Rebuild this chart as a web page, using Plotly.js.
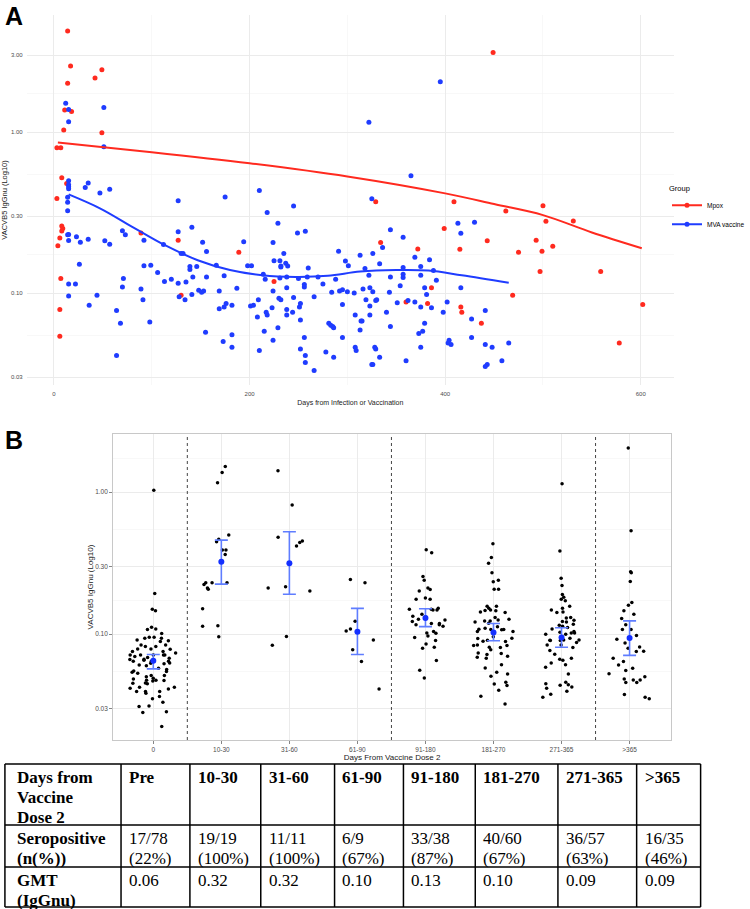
<!DOCTYPE html>
<html>
<head>
<meta charset="utf-8">
<script src="https://cdn.plot.ly/plotly-3.0.1.min.js"></script>
<style>
  html, body { margin: 0; padding: 0; background: #fff; }
  #chart_div { width: 750px; height: 909px; }
</style>
</head>
<body>
<div id="chart_div"></div>
<script>
// ---- Panel A: days since infection / vaccination vs IgGnu ----
var mpoxDays = [14, 17, 14, 42, 49, 11, 18, 10, 49, 3, 7, 8, 13, 3, 8, 9, 8, 6, 4, 89, 127, 189, 225, 130, 7, 6, 6,
  449, 329, 409, 500, 462, 503, 531, 399, 334, 443, 493, 510, 372, 415, 475, 499, 497, 559, 386, 360, 382, 469, 416, 417, 437, 602, 578];
var mpoxVals = [4.24, 2.57, 2.01, 2.17, 2.44, 1.37, 1.34, 1.03, 0.99, 0.80, 0.80, 0.52, 0.48, 0.387, 0.261, 0.252, 0.243, 0.220, 0.197, 0.236, 0.213, 0.179, 0.118, 0.097, 0.123, 0.079, 0.054,
  3.12, 0.369, 0.369, 0.349, 0.323, 0.279, 0.280, 0.252, 0.206, 0.211, 0.213, 0.195, 0.188, 0.187, 0.179, 0.182, 0.136, 0.136, 0.108, 0.088, 0.086, 0.097, 0.082, 0.076, 0.065, 0.085, 0.049];

var mvaDays = [12, 15, 15, 15, 15, 15, 15, 14, 14, 14, 15, 14, 15, 15, 15,
  23, 27, 26, 22, 32, 35, 35, 36, 44, 47, 51, 51, 52, 57, 57,
  64, 64, 68, 70, 73, 71, 70, 89, 91, 92, 92, 98, 99, 106, 112,
  113, 120, 127, 127, 127, 128, 130, 132, 134, 135, 139, 139, 141, 142, 141,
  146, 148, 151, 152, 153, 155, 156, 156, 166, 169, 169, 173, 174, 174, 176,
  175, 182, 182, 182, 187, 194, 198, 201, 202, 204, 208, 209, 210, 210, 214,
  215, 216, 217, 218, 218, 223, 224, 224, 224, 225, 231, 232, 232, 229, 230,
  231, 232, 229, 235, 237, 239, 238, 238, 238, 238, 244, 245, 245, 249, 250,
  251, 252, 252, 252, 256, 256, 256, 257, 257, 257, 259, 260, 266, 266, 270,
  275, 278, 281, 283, 285, 286, 284, 286, 288, 291, 292, 295, 295, 295, 298,
  301, 300, 307, 308, 308, 309, 313, 313, 314, 315, 316, 318, 319, 322, 323,
  323, 323, 322, 325, 326, 326, 325,
  395, 365, 344, 357, 413, 430, 416, 336, 333, 369, 357, 375, 384, 388, 357,
  357, 375, 391, 344, 354, 379, 416, 343, 381, 330, 329, 351, 362, 369, 375,
  386, 402, 398, 340, 344, 379, 377, 373, 427, 441, 328, 329, 333, 326, 360,
  375, 404, 403, 406, 427, 441, 448, 465, 458, 443, 441];
var mvaVals = [1.51, 1.38, 1.16, 0.499, 0.471, 0.457, 0.445, 0.393, 0.366, 0.325, 0.231, 0.230, 0.212, 0.114, 0.096,
  0.224, 0.207, 0.151, 0.114, 0.453, 0.482, 0.216, 0.084, 0.097, 0.418, 1.42, 0.811, 0.211, 0.201, 0.442,
  0.078, 0.041, 0.065, 0.244, 0.230, 0.123, 0.109, 0.106, 0.091, 0.213, 0.148, 0.066, 0.149, 0.134, 0.200,
  0.118, 0.122, 0.374, 0.240, 0.115, 0.095, 0.176, 0.176, 0.091, 0.117, 0.146, 0.140, 0.256, 0.126, 0.098,
  0.146, 0.104, 0.101, 0.207, 0.103, 0.057, 0.126, 0.181, 0.149, 0.103, 0.080, 0.050, 0.082, 0.128, 0.086,
  0.395, 0.084, 0.055, 0.046, 0.107, 0.208, 0.148, 0.083, 0.148, 0.084, 0.071, 0.091, 0.044, 0.434, 0.131,
  0.058, 0.122, 0.076, 0.073, 0.317, 0.081, 0.051, 0.206, 0.103, 0.159, 0.159, 0.147, 0.145, 0.271, 0.093,
  0.124, 0.091, 0.061, 0.176, 0.153, 0.147, 0.079, 0.108, 0.073, 0.126, 0.076, 0.094, 0.347, 0.236, 0.123,
  0.082, 0.086, 0.068, 0.045, 0.053, 0.113, 0.109, 0.242, 0.041, 0.037, 0.126, 0.143, 0.033, 0.095, 0.126,
  0.114, 0.043, 0.065, 0.063, 0.062, 0.061, 0.101, 0.040, 0.122, 0.182, 0.103, 0.105, 0.085, 0.053, 0.158,
  0.148, 0.102, 0.100, 0.073, 0.046, 0.044, 0.172, 0.059, 0.067, 0.067, 0.106, 0.142, 0.091, 0.129, 0.108,
  0.073, 0.083, 1.15, 0.385, 0.176, 0.102, 0.036,
  2.05, 0.536, 0.247, 0.222, 0.271, 0.275, 0.235, 0.192, 0.152, 0.167, 0.144, 0.146, 0.161, 0.138, 0.131,
  0.125, 0.129, 0.120, 0.126, 0.111, 0.108, 0.108, 0.101, 0.098, 0.091, 0.090, 0.087, 0.090, 0.088, 0.082,
  0.081, 0.088, 0.076, 0.076, 0.062, 0.065, 0.058, 0.056, 0.069, 0.078, 0.046, 0.045, 0.040, 0.036, 0.038,
  0.046, 0.051, 0.049, 0.048, 0.053, 0.048, 0.046, 0.049, 0.038, 0.036, 0.035];

// smoothed trend lines
var mpoxFitDays = [4, 100, 200, 300, 400, 450, 500, 550, 601];
var mpoxFitVals = [0.86, 0.75, 0.64, 0.53, 0.416, 0.357, 0.305, 0.238, 0.190];
var mvaFitDays = [15, 47, 80, 113, 147, 180, 213, 247, 280, 313, 350, 383, 417, 465];
var mvaFitVals = [0.41, 0.336, 0.258, 0.199, 0.160, 0.139, 0.129, 0.126, 0.128, 0.136, 0.139, 0.138, 0.129, 0.116];

// ---- Panel B: titres by time since dose 2 ----
var bCats = ["0", "10-30", "31-60", "61-90", "91-180", "181-270", "271-365", ">365"];
var preVals = [1.03, 0.193, 0.150, 0.146, 0.109, 0.112, 0.108, 0.101, 0.0912, 0.0937, 0.0953, 0.0937, 0.0953, 0.0788, 0.0788,
  0.0818, 0.0818, 0.0784, 0.0755, 0.0715, 0.0715, 0.0755, 0.0739, 0.0715, 0.0645, 0.0645, 0.0621, 0.0645, 0.0667, 0.0628,
  0.0664, 0.0564, 0.0601, 0.0577, 0.0546, 0.0540, 0.0552, 0.0512, 0.0512, 0.0490, 0.0485, 0.0469, 0.0474, 0.0474, 0.0472,
  0.0454, 0.0449, 0.0423, 0.0412, 0.0423, 0.0395, 0.0395, 0.0395, 0.0332, 0.0351, 0.0310, 0.0313, 0.0282, 0.0285, 0.0224,
  0.0656, 0.0715, 0.0696, 0.0898, 0.0888, 0.0841, 0.0678, 0.0715, 0.0608, 0.0531, 0.0503, 0.0452, 0.0385, 0.0417, 0.0364,
  0.0841, 0.0685, 0.0625];
var d10Vals = [1.51, 1.16, 1.37, 0.498, 0.465, 0.447, 0.391, 0.364, 0.391, 0.230, 0.230, 0.230, 0.224, 0.211, 0.207, 0.151, 0.1145, 0.1138, 0.0958];
var d31Vals = [1.41, 0.810, 0.452, 0.480, 0.442, 0.417, 0.201, 0.216, 0.211, 0.0964, 0.0837];
var d61Vals = [0.243, 0.230, 0.1235, 0.1055, 0.109, 0.0912, 0.0776, 0.0642, 0.0412];
var d91Vals = [0.374, 0.393, 0.255, 0.240, 0.211, 0.206, 0.201, 0.180, 0.176, 0.176, 0.150, 0.150, 0.152, 0.148, 0.148,
  0.1276, 0.134, 0.132, 0.138, 0.1164, 0.119, 0.119, 0.1138, 0.1228, 0.1164, 0.1017, 0.102, 0.1044, 0.0948, 0.0973,
  0.0902, 0.0855, 0.0797, 0.081, 0.0653, 0.0558, 0.0492, 0.126];
var d181Vals = [0.433, 0.347, 0.316, 0.270, 0.240, 0.234, 0.207, 0.207, 0.146, 0.157, 0.152, 0.142, 0.157, 0.148, 0.147,
  0.143, 0.1195, 0.1127, 0.122, 0.124, 0.124, 0.131, 0.1276, 0.1044, 0.108, 0.0958, 0.0932, 0.1084, 0.1073, 0.108,
  0.0908, 0.0937, 0.0893, 0.0841, 0.0832, 0.0832, 0.081, 0.0805, 0.0739, 0.0731, 0.0719, 0.070, 0.0689, 0.0611, 0.0579,
  0.054, 0.0526, 0.0506, 0.0447, 0.0435, 0.0459, 0.0403, 0.0366, 0.0323, 0.126, 0.1044, 0.0888, 0.0776, 0.0678, 0.110];
var d271Vals = [1.145, 0.384, 0.247, 0.220, 0.190, 0.176, 0.172, 0.182, 0.152, 0.148, 0.142, 0.157, 0.143, 0.130, 0.131,
  0.1256, 0.122, 0.1157, 0.1138, 0.1114, 0.1033, 0.1044, 0.100, 0.102, 0.100, 0.102, 0.0908, 0.0902, 0.0912, 0.0912,
  0.0902, 0.0873, 0.0841, 0.0841, 0.0805, 0.0767, 0.0723, 0.0667, 0.0628, 0.0656, 0.0586, 0.0611, 0.0526, 0.0449, 0.0437,
  0.0426, 0.0459, 0.0417, 0.0442, 0.0397, 0.0378, 0.036, 0.0937, 0.109, 0.1175, 0.1228, 0.0678];
var d365Vals = [2.04, 0.534, 0.275, 0.270, 0.235, 0.167, 0.160, 0.146, 0.138, 0.129, 0.108, 0.108, 0.0869, 0.0979, 0.0814,
  0.0759, 0.0922, 0.0797, 0.0755, 0.0642, 0.0577, 0.0555, 0.0528, 0.0477, 0.0457, 0.0485, 0.0477, 0.0457, 0.0503, 0.0376,
  0.036, 0.0351, 0.1164, 0.0678, 0.0608];
var groupVals = [preVals, d10Vals, d31Vals, d61Vals, d91Vals, d181Vals, d271Vals, d365Vals];

// geometric mean with 95% CI
var gmtMid = [0.065, 0.323, 0.316, 0.104, 0.130, 0.103, 0.095, 0.094];
var gmtLow = [0.057, 0.225, 0.191, 0.072, 0.113, 0.090, 0.081, 0.071];
var gmtHigh = [0.072, 0.459, 0.526, 0.152, 0.151, 0.119, 0.111, 0.124];
var dividers = [0.5, 3.5, 6.5];

// ---- Table ----
var tableCats = ["Pre", "10-30", "31-60", "61-90", "91-180", "181-270", "271-365", ">365"];
var seroPos = [17, 19, 11, 6, 33, 40, 36, 16];
var seroN = [78, 19, 11, 9, 38, 60, 57, 35];
var seroPct = [22, 100, 100, 67, 87, 67, 63, 46];
var gmtText = ["0.06", "0.32", "0.32", "0.10", "0.13", "0.10", "0.09", "0.09"];

var W = 750, H = 909;
function fx(px) { return px / W; }
function fy(px) { return 1 - px / H; }

var RED = "#ff2a1f", BLUE = "#1f3cff";
var sans = "Liberation Sans, Arial, sans-serif";
var serif = "Liberation Serif, Times New Roman, serif";

var ptsX = [], ptsY = [];
groupVals.forEach(function (vals, i) {
  vals.forEach(function (v) { ptsX.push(bCats[i]); ptsY.push(v); });
});

var data = [
  { type: "scatter", mode: "markers", x: mpoxDays, y: mpoxVals, xaxis: "x", yaxis: "y",
    marker: { color: RED, size: 5 }, showlegend: false, legendgroup: "mpox" },
  { type: "scatter", mode: "markers", x: mvaDays, y: mvaVals, xaxis: "x", yaxis: "y",
    marker: { color: BLUE, size: 5 }, showlegend: false, legendgroup: "mva" },
  { type: "scatter", mode: "lines", x: mpoxFitDays, y: mpoxFitVals, xaxis: "x", yaxis: "y",
    line: { color: RED, width: 2, shape: "spline" }, showlegend: false, legendgroup: "mpox" },
  { type: "scatter", mode: "lines", x: mvaFitDays, y: mvaFitVals, xaxis: "x", yaxis: "y",
    line: { color: BLUE, width: 2, shape: "spline" }, showlegend: false, legendgroup: "mva" },
  // legend keys only
  { type: "scatter", mode: "lines+markers", x: [null], y: [null], xaxis: "x", yaxis: "y", name: "Mpox",
    line: { color: RED, width: 2 }, marker: { color: RED, size: 5 }, legendgroup: "mpox" },
  { type: "scatter", mode: "lines+markers", x: [null], y: [null], xaxis: "x", yaxis: "y", name: "MVA vaccine",
    line: { color: BLUE, width: 2 }, marker: { color: BLUE, size: 5 }, legendgroup: "mva" },

  // panel B jittered points
  { type: "box", x: ptsX, y: ptsY, xaxis: "x2", yaxis: "y2", boxpoints: "all", jitter: 1, pointpos: 0,
    width: 0.7, fillcolor: "rgba(0,0,0,0)", line: { width: 0, color: "rgba(0,0,0,0)" },
    marker: { color: "#000", size: 3.5 }, showlegend: false },
  { type: "scatter", mode: "markers", x: bCats, y: gmtMid, xaxis: "x2", yaxis: "y2",
    marker: { color: "#1430ff", size: 6 }, showlegend: false,
    error_y: { type: "data", symmetric: false,
      array: gmtHigh.map(function (h, i) { return h - gmtMid[i]; }),
      arrayminus: gmtLow.map(function (l, i) { return gmtMid[i] - l; }),
      color: "#5f7dff", thickness: 1.6, width: 6.5 } }
];

var shapes = dividers.map(function (d) {
  return { type: "line", xref: "x2", yref: "y2 domain", x0: d, x1: d, y0: 0, y1: 1,
    line: { color: "#444", width: 1, dash: "dot" } };
});

// ---- table grid + text (paper coordinates) ----
var colW = [118, 70, 72, 75, 70, 73, 84, 80, 65];
var rowH = [61, 42, 40];
var tLeft = 5, tTop = 764, lineGap = 20;
var colX = [tLeft];
colW.forEach(function (w) { colX.push(colX[colX.length - 1] + w); });
var rowY = [tTop];
rowH.forEach(function (h) { rowY.push(rowY[rowY.length - 1] + h); });

rowY.forEach(function (y) {
  shapes.push({ type: "line", xref: "paper", yref: "paper", x0: fx(colX[0]), x1: fx(colX[colX.length - 1]),
    y0: fy(y), y1: fy(y), line: { color: "#000", width: 1.5 } });
});
colX.forEach(function (x) {
  shapes.push({ type: "line", xref: "paper", yref: "paper", x0: fx(x), x1: fx(x),
    y0: fy(rowY[0]), y1: fy(rowY[rowY.length - 1]), line: { color: "#000", width: 1.5 } });
});

var tableRows = [
  [["Days from", "Vaccine", "Dose 2"]].concat(tableCats.map(function (c) { return [c]; })),
  [["Seropositive", "(n(%))"]].concat(tableCats.map(function (c, i) {
    return [seroPos[i] + "/" + seroN[i], "(" + seroPct[i] + "%)"];
  })),
  [["GMT", "(IgGnu)"]].concat(gmtText.map(function (g) { return [g]; }))
];

var annotations = [
  { text: "<b>A</b>", xref: "paper", yref: "paper", x: fx(3), y: fy(0), xanchor: "left", yanchor: "top",
    showarrow: false, font: { family: sans, size: 25, color: "#000" } },
  { text: "<b>B</b>", xref: "paper", yref: "paper", x: fx(3), y: fy(424), xanchor: "left", yanchor: "top",
    showarrow: false, font: { family: sans, size: 25, color: "#000" } }
];
tableRows.forEach(function (row, r) {
  row.forEach(function (lines, c) {
    lines.forEach(function (t, k) {
      var bold = (r === 0 || c === 0);
      annotations.push({
        text: bold ? "<b>" + t + "</b>" : t,
        xref: "paper", yref: "paper",
        x: fx(colX[c] + (c === 0 ? 10 : 6)), y: fy(rowY[r] + 13 + k * lineGap),
        xanchor: "left", yanchor: "middle", showarrow: false,
        font: { family: serif, size: 17, color: "#000" }
      });
    });
  });
});

var logTicks = [0.03, 0.1, 0.3, 1, 3];
var logText = ["0.03", "0.10", "0.30", "1.00", "3.00"];
var logMinor = [0.0548, 0.173, 0.548, 1.73];
var tickFont = { family: sans, size: 6, color: "#4d4d4d" };

var layout = {
  width: W, height: H,
  margin: { l: 0, r: 0, t: 0, b: 0 },
  paper_bgcolor: "#fff", plot_bgcolor: "#fff",
  font: { family: sans, color: "#000" },
  showlegend: true,
  legend: { x: fx(678), y: fy(181), xanchor: "left", yanchor: "top",
    title: { text: "Group", font: { family: sans, size: 7.5, color: "#000" } },
    font: { family: sans, size: 6.5, color: "#000" },
    itemwidth: 30, bgcolor: "rgba(0,0,0,0)", tracegroupgap: 0 },
  xaxis: { domain: [fx(27), fx(685)], range: [-28, 634], anchor: "y",
    tickvals: [0, 200, 400, 600], ticks: "", showline: false, zeroline: false,
    showgrid: true, gridcolor: "#ebebeb", gridwidth: 1,
    minor: { tickvals: [100, 300, 500], showgrid: true, gridcolor: "#f4f4f4", gridwidth: 0.6 },
    tickfont: tickFont, ticklabelstandoff: 4,
    title: { text: "Days from Infection or Vaccination", font: { family: sans, size: 7, color: "#1a1a1a" }, standoff: 4 } },
  yaxis: { domain: [fy(385), fy(15)], type: "log", range: [-1.571, 0.727], anchor: "x",
    tickvals: logTicks, ticktext: logText, ticks: "", showline: false, zeroline: false,
    showgrid: true, gridcolor: "#ebebeb", gridwidth: 1,
    minor: { tickvals: logMinor, showgrid: true, gridcolor: "#f4f4f4", gridwidth: 0.6 },
    tickfont: tickFont, ticklabelstandoff: 3,
    title: { text: "VACVB5 IgGnu (Log10)", font: { family: sans, size: 7.5, color: "#1a1a1a" }, standoff: 4 } },
  xaxis2: { domain: [fx(115), fx(682)], type: "category", categoryorder: "array", categoryarray: bCats,
    range: [-0.59, 7.61], anchor: "y2",
    showline: true, mirror: true, linecolor: "#c8c8c8", linewidth: 1,
    showgrid: true, gridcolor: "#ebebeb", gridwidth: 1, zeroline: false,
    ticks: "outside", ticklen: 3, tickcolor: "#333", tickwidth: 0.6,
    tickfont: { family: sans, size: 6.5, color: "#4d4d4d" },
    title: { text: "Days From Vaccine Dose 2", font: { family: sans, size: 8, color: "#1a1a1a" }, standoff: 0 } },
  yaxis2: { domain: [fy(740), fy(434)], type: "log", range: [-1.744, 0.408], anchor: "x2",
    tickvals: logTicks, ticktext: logText,
    showline: true, mirror: true, linecolor: "#c8c8c8", linewidth: 1,
    showgrid: true, gridcolor: "#ebebeb", gridwidth: 1, zeroline: false,
    minor: { tickvals: logMinor, showgrid: true, gridcolor: "#f4f4f4", gridwidth: 0.6 },
    ticks: "outside", ticklen: 3, tickcolor: "#333", tickwidth: 0.6,
    tickfont: { family: sans, size: 6.5, color: "#4d4d4d" },
    title: { text: "VACVB5 IgGnu (Log10)", font: { family: sans, size: 8, color: "#1a1a1a" }, standoff: 0 } },
  shapes: shapes,
  annotations: annotations
};

Plotly.newPlot("chart_div", data, layout, { displayModeBar: false, staticPlot: true });
</script>
</body>
</html>
